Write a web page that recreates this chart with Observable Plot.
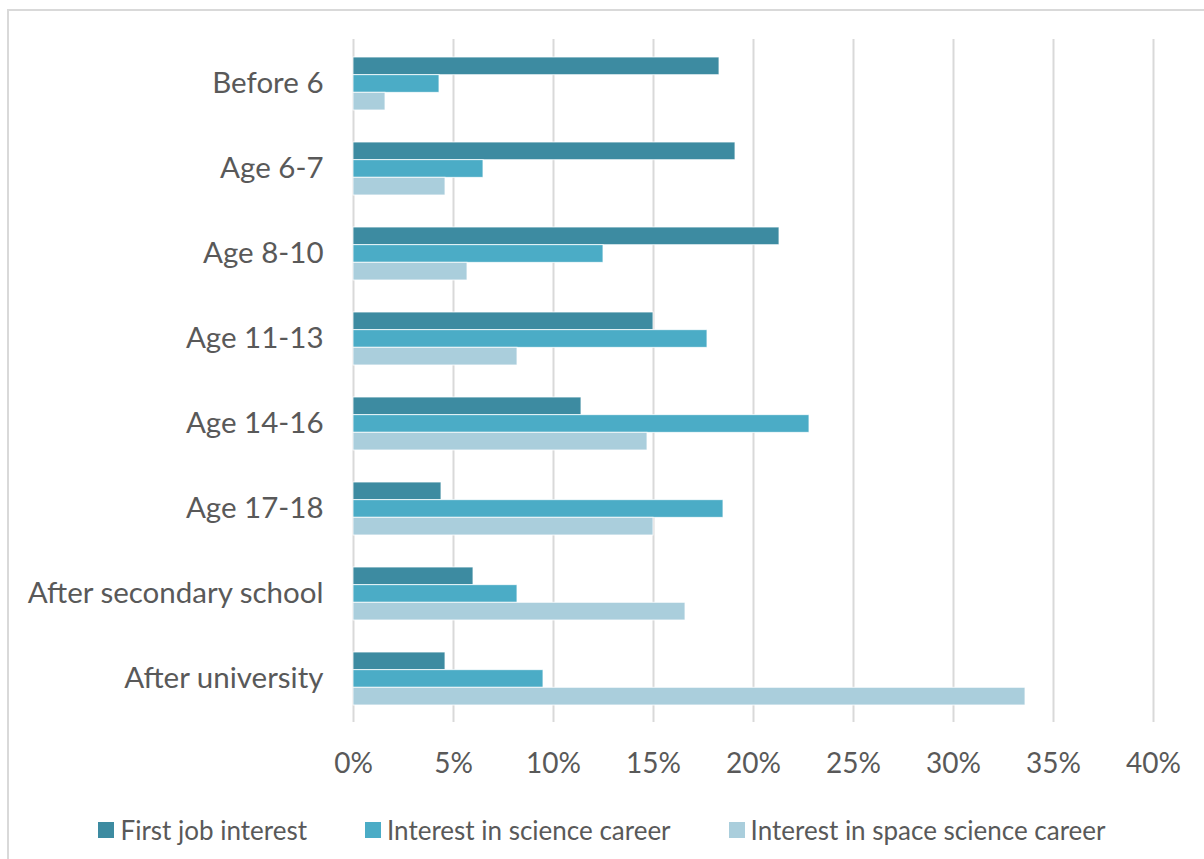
<!DOCTYPE html>
<html>
<head>
<meta charset="utf-8">
<script src="https://cdn.jsdelivr.net/npm/d3@7"></script>
<script src="https://cdn.jsdelivr.net/npm/@observablehq/plot@0.6"></script>
<style>
  html, body { margin: 0; padding: 0; background: #fff; overflow: hidden; }
  #frame { position: relative; width: 1204px; height: 859px; overflow: hidden; font-family: Lato, sans-serif; color: #595959; }
  #border { position: absolute; left: 7px; top: 9px; width: 1300px; height: 1000px; border: 2px solid #d9d9d9; box-sizing: border-box; }
  #chart { position: absolute; left: 0; top: 0; }
  #legend { position: absolute; left: 0; top: 814px; width: 1204px; display: flex; justify-content: center; gap: 58px; font-size: 26px; line-height: 32px; }
  .item { display: flex; align-items: center; white-space: nowrap; }
  .swatch { width: 16px; height: 16px; margin-right: 6px; flex: none; }
</style>
</head>
<body>
<div id="frame">
  <div id="border"></div>
  <div id="chart"></div>
  <div id="legend"></div>
</div>
<script>
// Stage at which interest began, share of respondents (%)
const categories = [
  "Before 6", "Age 6-7", "Age 8-10", "Age 11-13",
  "Age 14-16", "Age 17-18", "After secondary school", "After university"
];
const seriesNames = [
  "First job interest",
  "Interest in science career",
  "Interest in space science career"
];
const firstJob      = [18.3, 19.1, 21.3, 15.0, 11.4, 4.4, 6.0, 4.6];
const scienceCareer = [4.3, 6.5, 12.5, 17.7, 22.8, 18.5, 8.2, 9.5];
const spaceCareer   = [1.6, 4.6, 5.7, 8.2, 14.7, 15.0, 16.6, 33.6];
const seriesColors  = ["#3d8ba1", "#4bacc6", "#aacedc"];
const xTicks = [0, 5, 10, 15, 20, 25, 30, 35, 40];

const seriesValues = [firstJob, scienceCareer, spaceCareer];

// Layout
const width = 1204, height = 790;
const marginTop = 39, marginBottom = 68, marginLeft = 353, marginRight = 51;
const padInner = 0.38, padOuter = 0.19;

// Band geometry, so each series takes a third of its category band
const step = (height - marginTop - marginBottom) / (categories.length - padInner + 2 * padOuter);
const bandwidth = step * (1 - padInner);
const barH = bandwidth / seriesNames.length;

const barMarks = seriesValues.map((values, s) => {
  const rows = categories.map((c, i) => ({category: c, value: values[i], series: seriesNames[s]}));
  return Plot.barX(rows, {
    x: "value",
    y: "category",
    fill: seriesColors[s],
    stroke: "white",
    strokeWidth: 1,
    strokeOpacity: 0.8,
    insetTop: s * barH,
    insetBottom: (seriesNames.length - 1 - s) * barH
  });
});

const chart = Plot.plot({
  width, height, marginTop, marginBottom, marginLeft, marginRight,
  style: {fontFamily: "Lato, sans-serif", fontSize: "28px", color: "#595959", background: "transparent"},
  x: {domain: [0, 40], ticks: xTicks, tickFormat: d => d + "%", tickSize: 0, tickPadding: 31, label: null},
  y: {domain: categories, paddingInner: padInner, paddingOuter: padOuter, tickSize: 0, tickPadding: 30, label: null},
  marks: [
    Plot.ruleX(xTicks, {stroke: "#d9d9d9", strokeWidth: 2}),
    ...barMarks
  ]
});
// Category labels are set a little larger than the percentage ticks
d3.select(chart).selectAll('[aria-label="y-axis tick label"]').attr("font-size", 29.5);
document.getElementById("chart").appendChild(chart);

// Legend below the chart
const legend = document.getElementById("legend");
seriesNames.forEach((name, i) => {
  const item = document.createElement("div");
  item.className = "item";
  const sw = document.createElement("span");
  sw.className = "swatch";
  sw.style.background = seriesColors[i];
  const label = document.createElement("span");
  label.textContent = name;
  item.appendChild(sw);
  item.appendChild(label);
  legend.appendChild(item);
});
</script>
</body>
</html>
